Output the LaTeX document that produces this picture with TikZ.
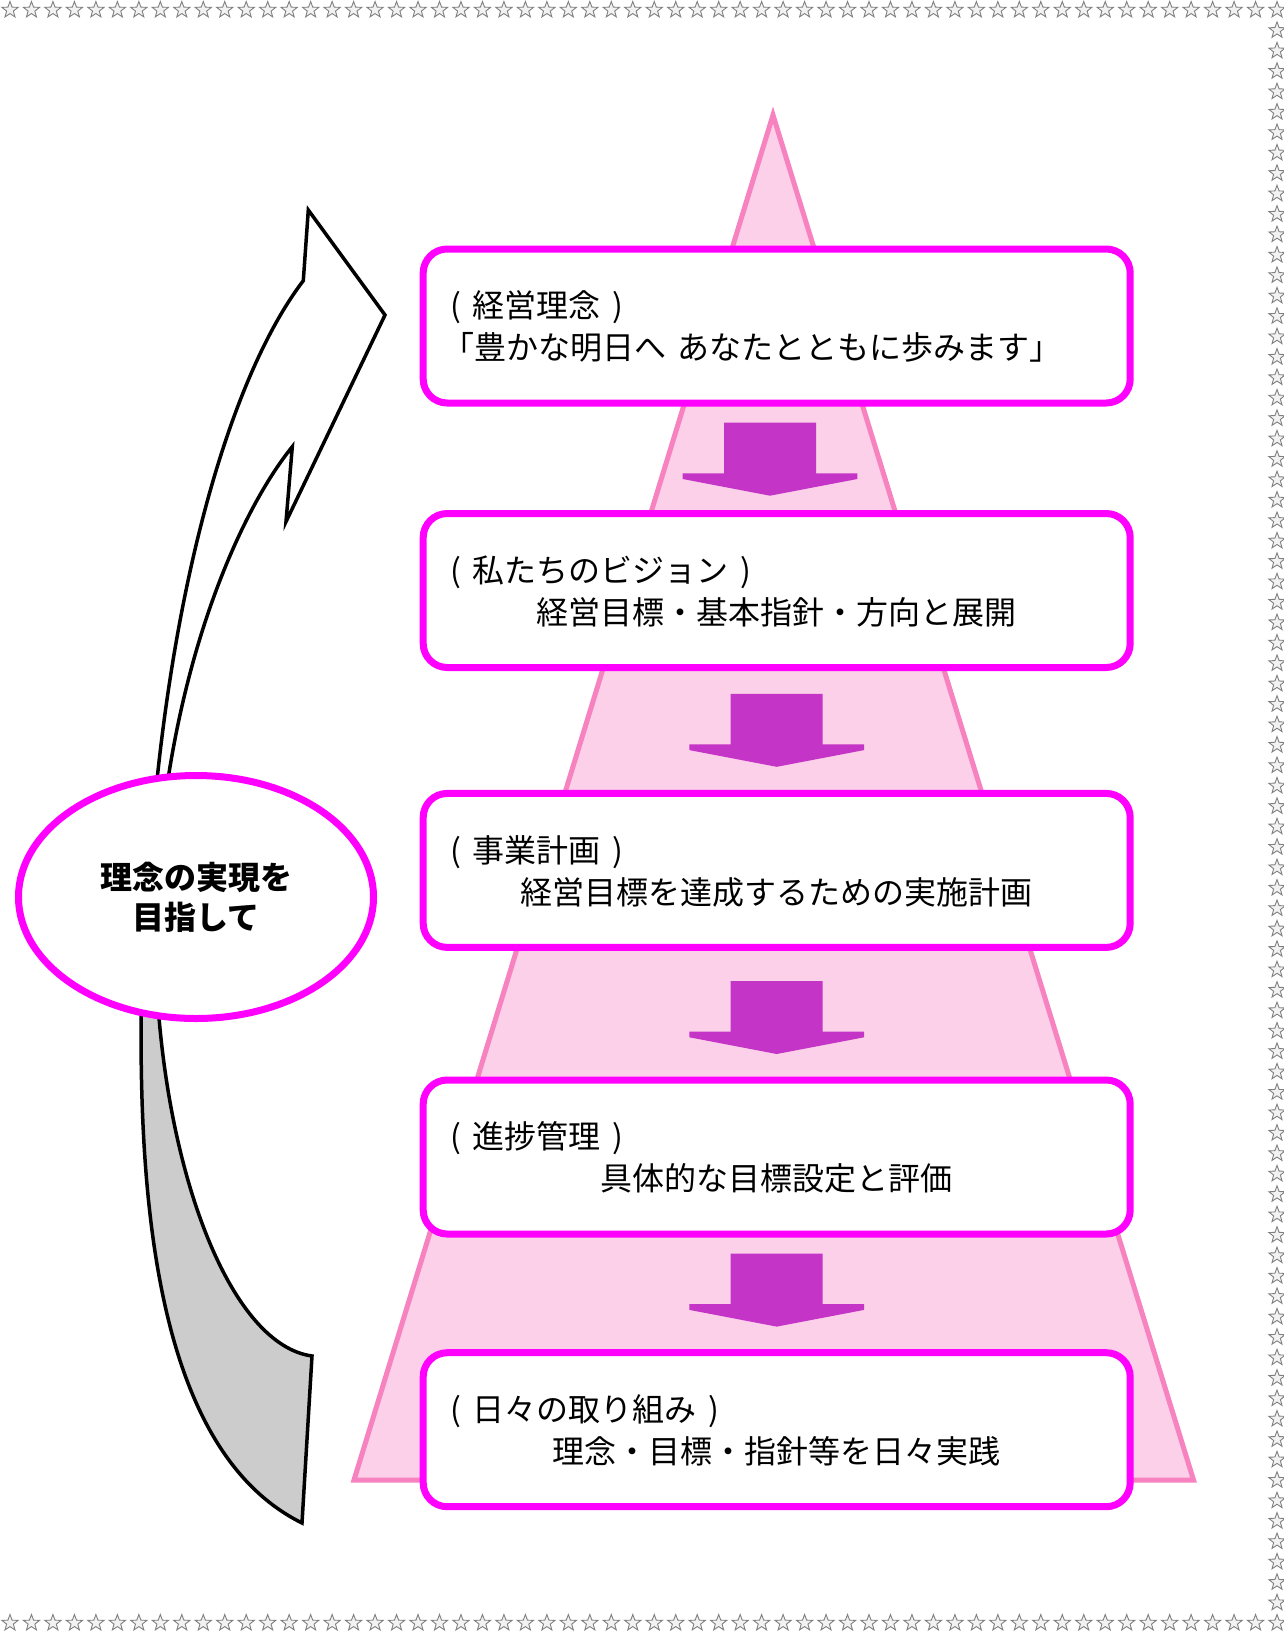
\documentclass[tikz,border=0pt]{standalone}
\usepackage{fontspec}
\newfontfamily\jp{Noto Sans CJK JP}
\usetikzlibrary{shapes.geometric}
\definecolor{mag}{RGB}{255,0,255}
\definecolor{pyrfill}{RGB}{252,208,232}
\definecolor{pyrline}{RGB}{247,130,192}
\definecolor{darr}{RGB}{196,52,198}
\definecolor{arrgray}{RGB}{204,204,204}
\definecolor{stargray}{RGB}{128,128,128}
\definecolor{starfill}{RGB}{242,242,242}
\newcommand{\gp}{\hspace{0.36em}}
\begin{document}
\begin{tikzpicture}[x=1pt,y=-1pt,
  box/.style={draw=mag, line width=7pt, fill=white, rounded corners=24pt, minimum width=707pt, minimum height=154pt, inner sep=0pt},
  txt/.style={font=\jp\fontsize{32}{42}\selectfont, inner sep=0pt, text=black},
  starmark/.style={star, star points=5, star point ratio=2.4, minimum size=17pt, inner sep=0pt, draw=stargray, fill=starfill, line width=0.9pt},
  downarrow/.style={fill=darr},
  bentarrow/.style={draw=black, line width=3.5pt, line join=miter}]
\useasboundingbox (0,0) rectangle (1284,1633);
\fill[white] (0,0) rectangle (1284,1633);
% star border
\foreach \i in {0,...,59} {
  \node[starmark] (st\i) at ({10+\i*21.475},10) {};
  \node[starmark] (sb\i) at ({10+\i*21.475},1623) {};
}
\foreach \j in {1,...,78} {
  \node[starmark] (sr\j) at (1277,{10+\j*20.42}) {};
}
% pyramid
\draw[pyrline, fill=pyrfill, line width=5pt, line join=miter] (773,115) -- (1193.5,1480) -- (354,1480) -- cycle;
% down arrows
\foreach \tx/\ty in {770/495.7, 776.7/766.8, 776.7/1054, 776.7/1326.6} {
  \fill[downarrow] (\tx,\ty) -- ++(87.3,-16.7) -- ++(0,-5.7) -- ++(-41.3,0) -- ++(0,-50.6) -- ++(-92,0) -- ++(0,50.6) -- ++(-41.3,0) -- ++(0,5.7) -- cycle;
}
% boxes
\node[box] (b1) at (776.7,326) {};
\node[box] (b2) at (776.7,590.5) {};
\node[box] (b3) at (776.7,870.4) {};
\node[box] (b4) at (776.7,1157) {};
\node[box] (b5) at (776.7,1429.7) {};
% texts
\node[txt, anchor=base west] (t1a) at (450.3,317.5) {(\gp 経営理念\gp )};
\node[txt, anchor=base west] (t1b) at (442.5,359.5) {「豊かな明日へ\hspace{0.35em}あなたとともに歩みます」};
\node[txt, anchor=base west] (t2a) at (450.3,582) {(\gp 私たちのビジョン\gp )};
\node[txt, anchor=base] (t2b) at (776.7,624) {経営目標・基本指針・方向と展開};
\node[txt, anchor=base west] (t3a) at (450.3,862) {(\gp 事業計画\gp )};
\node[txt, anchor=base] (t3b) at (776.7,904) {経営目標を達成するための実施計画};
\node[txt, anchor=base west] (t4a) at (450.3,1148.5) {(\gp 進捗管理\gp )};
\node[txt, anchor=base] (t4b) at (776.7,1190.5) {具体的な目標設定と評価};
\node[txt, anchor=base west] (t5a) at (450.3,1421) {(\gp 日々の取り組み\gp )};
\node[txt, anchor=base] (t5b) at (776.7,1463) {理念・目標・指針等を日々実践};
% bent arrows
\draw[bentarrow, fill=white] (155,800) .. controls (178,560) and (235,370) .. (303.3,280.7) -- (308.3,210) -- (385,315) -- (286,521.7) -- (292.3,446.7) .. controls (245,505) and (188,630) .. (165,800) -- cycle;
\draw[bentarrow, fill=arrgray] (141.5,990) .. controls (137,1230) and (165,1455) .. (302,1523) -- (312,1356) .. controls (232,1345) and (168,1180) .. (157,990) -- cycle;
% ellipse
\node[ellipse, draw=mag, line width=7pt, fill=white, minimum width=355pt, minimum height=243pt, inner sep=0pt, align=center, font=\jp\bfseries\fontsize{32}{40}\selectfont] (goal) at (196,897) {理念の実現を\\目指して};
\end{tikzpicture}
\end{document}
